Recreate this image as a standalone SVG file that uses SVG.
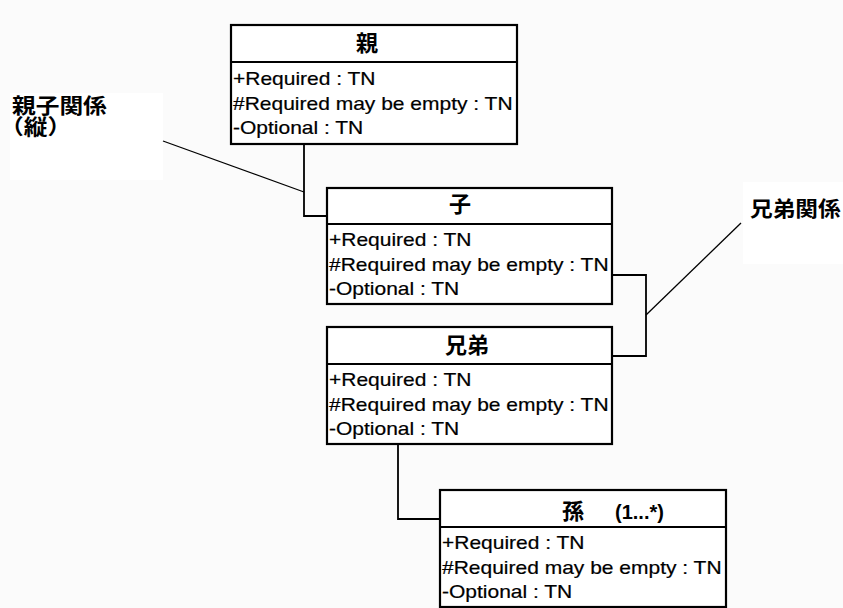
<svg xmlns="http://www.w3.org/2000/svg" width="843" height="608" viewBox="0 0 843 608">
  <style>
    .box { fill: #ffffff; stroke: #000000; stroke-width: 2.2; }
    .sep { stroke: #000000; stroke-width: 2; }
    .conn { fill: none; stroke: #000000; stroke-width: 1.8; }
    .note { fill: none; stroke: #000000; stroke-width: 1.3; }
    .title { font-family: "Noto Sans CJK JP", "Liberation Sans", sans-serif; font-weight: bold; font-size: 22px; fill: #000000; }
    .mult { font-family: "Liberation Sans", Arial, sans-serif; font-weight: bold; font-size: 20px; fill: #000000; }
    .attr { font-family: "Liberation Sans", Arial, sans-serif; font-size: 17.8px; fill: #000000; stroke: #000000; stroke-width: 0.2; }
    .label { font-family: "Noto Sans CJK JP", "Liberation Sans", sans-serif; font-weight: bold; font-size: 21px; fill: #000000; }
  </style>

  <rect x="0" y="0" width="843" height="608" fill="#fbfbfb"/>
  <!-- label backgrounds -->
  <rect x="10" y="93" width="153" height="87" fill="#ffffff"/>
  <rect x="743" y="182" width="100" height="82" fill="#ffffff"/>

  <!-- connectors -->
  <g id="connectors">
    <polyline class="conn" points="304,144 304,216 327,216"/>
    <polyline class="conn" points="612,275 646,275 646,356 612,356"/>
    <polyline class="conn" points="398,444 398,519 440,519"/>
    <line class="note" x1="163" y1="141" x2="304" y2="192"/>
    <line class="note" x1="646" y1="315" x2="741" y2="223"/>
  </g>

  <!-- class 親 -->
  <g id="node-oya">
    <rect class="box" x="231" y="25" width="286" height="119"/>
    <line class="sep" x1="231" y1="62" x2="517" y2="62"/>
    <text class="title" x="367" y="51" text-anchor="middle">親</text>
    <text class="attr" transform="translate(233,85) scale(1.18,1)">+Required : TN</text>
    <text class="attr" transform="translate(233,110) scale(1.18,1)">#Required may be empty : TN</text>
    <text class="attr" transform="translate(233,134) scale(1.18,1)">-Optional : TN</text>
  </g>

  <!-- class 子 -->
  <g id="node-ko">
    <rect class="box" x="327" y="188" width="285" height="116"/>
    <line class="sep" x1="327" y1="224" x2="612" y2="224"/>
    <text class="title" x="460" y="212" text-anchor="middle">子</text>
    <text class="attr" transform="translate(329,246) scale(1.18,1)">+Required : TN</text>
    <text class="attr" transform="translate(329,271) scale(1.18,1)">#Required may be empty : TN</text>
    <text class="attr" transform="translate(329,295) scale(1.18,1)">-Optional : TN</text>
  </g>

  <!-- class 兄弟 -->
  <g id="node-kyoudai">
    <rect class="box" x="327" y="327" width="285" height="117"/>
    <line class="sep" x1="327" y1="364" x2="612" y2="364"/>
    <text class="title" x="467" y="353" text-anchor="middle">兄弟</text>
    <text class="attr" transform="translate(329,386) scale(1.18,1)">+Required : TN</text>
    <text class="attr" transform="translate(329,411) scale(1.18,1)">#Required may be empty : TN</text>
    <text class="attr" transform="translate(329,435) scale(1.18,1)">-Optional : TN</text>
  </g>

  <!-- class 孫 -->
  <g id="node-mago">
    <rect class="box" x="440" y="490" width="286" height="117"/>
    <line class="sep" x1="440" y1="527" x2="726" y2="527"/>
    <text class="title" x="562" y="519">孫</text>
    <text class="mult" x="615" y="519">(1...*)</text>
    <text class="attr" transform="translate(442,549) scale(1.18,1)">+Required : TN</text>
    <text class="attr" transform="translate(442,574) scale(1.18,1)">#Required may be empty : TN</text>
    <text class="attr" transform="translate(442,598) scale(1.18,1)">-Optional : TN</text>
  </g>

  <!-- relation labels -->
  <g id="label-oyako">
    <text class="label" transform="translate(0,112.5) scale(1.13,1)"><tspan x="10.6" y="0">親子関係</tspan><tspan x="0" y="21">（縦）</tspan></text>
  </g>
  <g id="label-kyoudai">
    <text class="label" transform="translate(750,216) scale(1.08,1)">兄弟関係</text>
  </g>
</svg>
